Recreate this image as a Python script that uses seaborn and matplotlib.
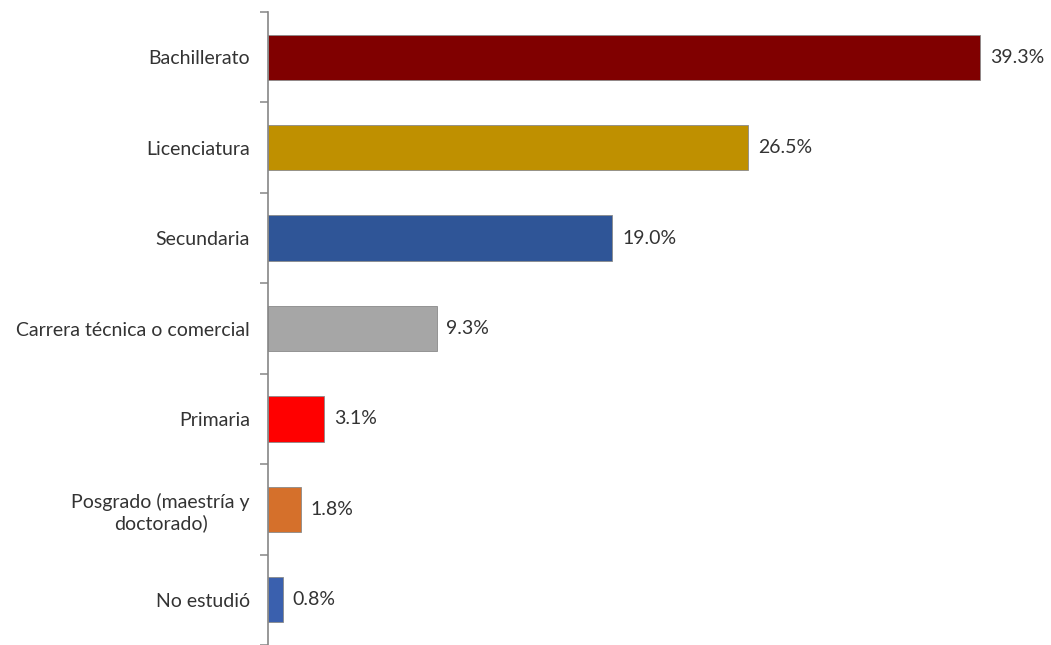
import matplotlib.pyplot as plt
import numpy as np
import pandas as pd
import seaborn as sns

categorias = ['Bachillerato', 'Licenciatura', 'Secundaria', 'Carrera técnica o comercial',
              'Primaria', 'Posgrado (maestría y\ndoctorado)', 'No estudió']
porcentajes = [39.3, 26.5, 19.0, 9.3, 3.1, 1.8, 0.8]
colores = ['#800000', '#BF9000', '#2F5597', '#A6A6A6', '#FF0000', '#D5702B', '#3A60AE']

df = pd.DataFrame({'categoria': categorias, 'pct': porcentajes})

sns.set_style('white')
plt.rcParams['font.family'] = ['Lato', 'DejaVu Sans']

fig = plt.figure(figsize=(10.51, 6.45), dpi=100)
ax = fig.add_axes([268 / 1051, 0, 1 - 268 / 1051, 1 - 12 / 645])

sns.barplot(data=df, y='categoria', x='pct', hue='categoria', palette=colores,
            width=0.5, legend=False, ax=ax, saturation=1,
            edgecolor='#8a8a8a', linewidth=0.6)

for cont in ax.containers:
    ax.bar_label(cont, labels=[f'{v:.1f}%' for v in cont.datavalues],
                 padding=7, fontsize=14, color='#333333')

ax.set_xlim(0, 43.2)
ax.set_ylim(len(categorias) - 0.5, -0.5)
ax.set_xlabel('')
ax.set_ylabel('')
ax.set_xticks([])

for s in ['top', 'right', 'bottom']:
    ax.spines[s].set_visible(False)
ax.spines['left'].set_color('#868686')
ax.spines['left'].set_linewidth(1.2)

ax.set_yticks(np.arange(len(categorias) + 1) - 0.5, minor=True)
ax.tick_params(axis='y', which='minor', length=6, width=1.1, color='#868686', left=True)
ax.tick_params(axis='y', which='major', length=0, pad=13, labelsize=14, labelcolor='#333333')
for lbl in ax.get_yticklabels():
    lbl.set_multialignment('center')

fig.savefig('out.png', dpi=100)
